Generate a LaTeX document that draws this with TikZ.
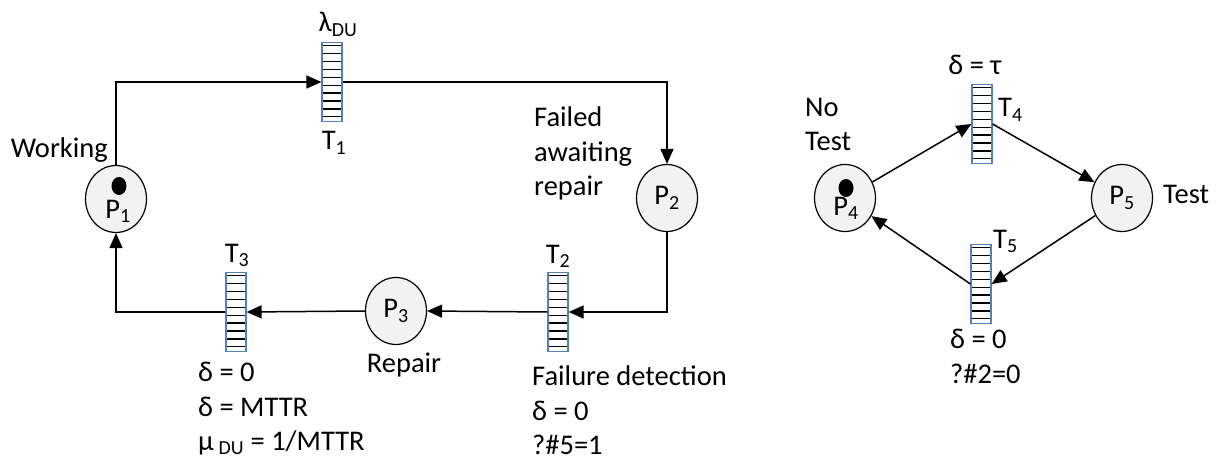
\documentclass[tikz,border=0pt]{standalone}
\usepackage{fontspec}
\setmainfont{Carlito}
\usepackage{xcolor}
\usepackage{tikz}
\usetikzlibrary{arrows.meta,positioning,shapes.geometric}
\definecolor{tblue}{HTML}{4F81BD}

\begin{document}
\begin{tikzpicture}[
  x=1pt, y=-1pt,
  font=\fontsize{28.5}{34.5}\selectfont,
  place/.style={draw, ellipse, line width=1.2pt, fill=black!5, minimum width=61pt, minimum height=67pt, inner sep=0pt},
  tok/.style={fill=black, ellipse, minimum width=15pt, minimum height=18pt, inner sep=0pt},
  trans/.style={draw=tblue, line width=1.2pt, fill=white, minimum width=20pt, minimum height=79pt, inner sep=0pt,
    path picture={\foreach \i in {1,...,10}
      \draw[black, line width=1.3pt] ([yshift={-(\i-0.6)*7.9pt}]path picture bounding box.north west) -- ([yshift={-(\i-0.6)*7.9pt}]path picture bounding box.north east);}},
  lbl/.style={inner sep=0pt, align=left},
  flow/.style={-{Triangle[length=15pt,width=13pt]}, line width=1.5pt}
]
\useasboundingbox (0,0) rectangle (1225,465);

% Repair loop
\node[place] (P1) at (116,199) {};
\node[inner sep=0pt, anchor=base] (p1t) at (118,218) {P\textsubscript{1}};
\node[tok] (k1) at (119,186) {};
\node[trans] (T1) at (332,82) {};
\node[place] (P2) at (667,198) {P\textsubscript{2}};
\node[trans] (T2) at (558,312) {};
\node[place] (P3) at (396,311) {P\textsubscript{3}};
\node[trans] (T3) at (236,312) {};
\draw[flow] (P1.north) |- (T1.west);
\draw[flow] (T1.east) -| (P2.north);
\draw[flow] (P2.south) |- (T2.east);
\draw[flow] (T2.west) -- (P3.east);
\draw[flow] (P3.west) -- (T3.east);
\draw[flow] (T3.west) -| (P1.south);

% labels
\node[lbl, anchor=base] (l1) at (338,32) {λ\textsubscript{DU}};
\node[lbl, anchor=base] (t1) at (334,150) {T\textsubscript{1}};
\node[lbl, anchor=base east] (w1) at (108,158) {Working};
\node[lbl, anchor=north west] (f2) at (534,107) {Failed\\awaiting\\repair};
\node[lbl, anchor=base] (t2) at (558,263) {T\textsubscript{2}};
\node[lbl, anchor=north west] (d2) at (532,366) {Failure detection\\δ = 0\\?\#5=1};
\node[lbl, anchor=base] (r3) at (404,372) {Repair};
\node[lbl, anchor=base] (t3) at (237,262) {T\textsubscript{3}};
\node[lbl, anchor=north west] (d3) at (198,362) {δ = 0\\δ = MTTR\\μ\,\textsubscript{DU} = 1/MTTR};

% Test loop
\node[place] (P4) at (845,198) {};
\node[inner sep=0pt, anchor=base] (p4t) at (846,215) {P\textsubscript{4}};
\node[tok] (k4) at (846,188) {};
\node[trans] (T4) at (982,124) {};
\node[place] (P5) at (1122,198) {P\textsubscript{5}};
\node[trans] (T5) at (981,284) {};
\draw[flow] (P4) -- (T4.west);
\draw[flow] (T4.east) -- (P5);
\draw[flow] (P5) -- (T5.east);
\draw[flow] (T5.west) -- (P4);

\node[lbl, anchor=north west] (n4) at (805,98) {No\\Test};
\node[lbl, anchor=base] (d4) at (975,75) {δ = τ};
\node[lbl, anchor=base west] (t4) at (998,117) {T\textsubscript{4}};
\node[lbl, anchor=base west] (s5) at (1163,204) {Test};
\node[lbl, anchor=base west] (t5) at (993,248) {T\textsubscript{5}};
\node[lbl, anchor=north west] (d5) at (950,329) {δ = 0\\?\#2=0};
\end{tikzpicture}
\end{document}
